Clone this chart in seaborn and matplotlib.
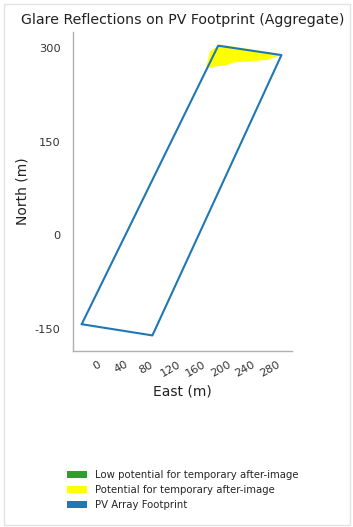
import matplotlib
matplotlib.use("Agg")
import matplotlib.pyplot as plt
import numpy as np
import pandas as pd
import seaborn as sns
from matplotlib.patches import Patch, Rectangle

# ---- data ----
footprint_east = [-24, 90, 298, 196, -24]
footprint_north = [-143, -161, 289, 304, -143]

glare_east = [177, 183, 199, 231, 274, 296, 292, 274, 247, 220, 207, 193, 185]
glare_north = [271, 295, 306, 301, 294, 289, 287, 281, 279, 277, 272, 271, 268]

x_ticks = [0, 40, 80, 120, 160, 200, 240, 280]
y_ticks = [300, 150, 0, -150]

legend_labels = ["Low potential for temporary after-image",
                 "Potential for temporary after-image",
                 "PV Array Footprint"]
legend_colors = ["#2ca02c", "#ffff00", "#1f77b4"]

# ---- style ----
sns.set_theme(style="white")
plt.rcParams["font.family"] = ["DejaVu Sans"]

W, H = 353, 527
fig = plt.figure(figsize=(W / 100, H / 100), dpi=100)
fig.patch.set_facecolor("white")

# light border around figure
fig.patches.append(Rectangle((4 / W, 2 / H), (350 - 4) / W, (523 - 2) / H,
                             transform=fig.transFigure, fill=False,
                             edgecolor="#e2e2e2", lw=1.0))

ax_l, ax_r, ax_t, ax_b = 73, 292, 32, 351
ax = fig.add_axes([ax_l / W, 1 - ax_b / H, (ax_r - ax_l) / W, (ax_b - ax_t) / H])

df_fp = pd.DataFrame({"East": footprint_east, "North": footprint_north})

ax.fill(glare_east, glare_north, color="#ffff00", lw=0, zorder=1)
sns.lineplot(data=df_fp, x="East", y="North", sort=False, estimator=None,
             color="#1f77b4", lw=1.5, ax=ax, zorder=2)

ax.set_xlim(-38, 315)
ax.set_ylim(-186, 326)
ax.set_xticks(x_ticks)
ax.set_xticklabels([str(v) for v in x_ticks], rotation=30, ha="center", fontsize=8.2, color="#333333")
ax.set_yticks(y_ticks)
ax.set_yticklabels([str(v) for v in y_ticks], fontsize=8.2, color="#333333")
ax.tick_params(axis="both", length=0)
ax.tick_params(axis="y", pad=9)
ax.tick_params(axis="x", pad=6)

for s in ["top", "right"]:
    ax.spines[s].set_visible(False)
for s in ["left", "bottom"]:
    ax.spines[s].set_color("#b0b0b0")
    ax.spines[s].set_linewidth(1.0)

ax.set_xlabel("East (m)", fontsize=10, color="#222222", labelpad=4)
ax.set_ylabel("North (m)", fontsize=10, color="#222222", labelpad=4)
ax.set_title("Glare Reflections on PV Footprint (Aggregate)", fontsize=10.2,
             color="#222222", pad=6)

handles = [Patch(facecolor=c, edgecolor="none") for c in legend_colors]
fig.legend(handles, legend_labels, loc="upper left",
           bbox_to_anchor=(67 / W, 1 - 470 / H), frameon=False, fontsize=7.3,
           handlelength=2.0, handleheight=0.6, handletextpad=0.8,
           labelspacing=0.5, borderpad=0, borderaxespad=0)

fig.savefig("out.png", dpi=100)
